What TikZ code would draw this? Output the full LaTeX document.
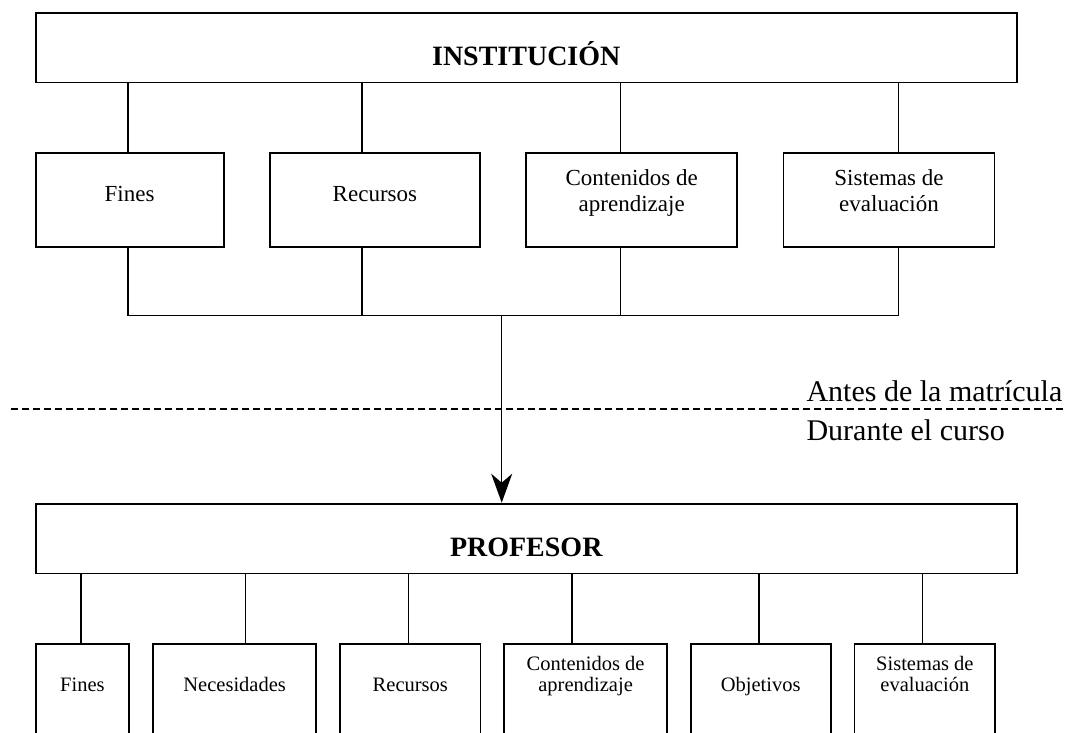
\documentclass[tikz,border=0pt]{standalone}
\usepackage{fontspec}
\setmainfont{Liberation Serif}
\usetikzlibrary{arrows.meta, positioning}

\begin{document}
\begin{tikzpicture}[
    x=1pt, y=-1pt,
    panel/.style={draw, line width=1.8pt, minimum width=981.3pt, inner ysep=0pt, anchor=north west, text height=53.3pt, text depth=16.5pt, font=\fontsize{28}{32}\selectfont\bfseries},
    item/.style={draw, line width=1.8pt, inner ysep=0pt, inner xsep=2pt, anchor=north west, align=center, font=\fontsize{23}{26.7}\selectfont},
    oneline/.style={text height=49pt, text depth=45.3pt},
    twoline/.style={text height=59.3pt, text depth=35pt},
    subitem/.style={item, font=\fontsize{20.5}{21.3}\selectfont},
    subone/.style={text height=47.4pt, text depth=70pt},
    subtwo/.style={text height=47.7pt, text depth=69.7pt},
    link/.style={line width=1.4pt},
    arrow/.style={-{Stealth[length=29pt, width=21pt, inset=9pt]}, line width=1.4pt},
    phase/.style={anchor=base west, font=\fontsize{30}{34}\selectfont}
]
\useasboundingbox (0,0) rectangle (1070,732);
\clip (0,0) rectangle (1070,732);
\fill[white] (0,0) rectangle (1070,732);

% institution level
\node[panel] (inst) at (34.7,11.7) {INSTITUCIÓN};
\node[item, oneline, minimum width=188pt] (fin1) at (34.7,151.7) {Fines};
\node[item, oneline, minimum width=210pt, right=44.5pt of fin1] (rec1) {Recursos};
\node[item, twoline, minimum width=211pt, right=44.5pt of rec1] (con1) {Contenidos de\\aprendizaje};
\node[item, twoline, minimum width=211pt, right=44.5pt of con1] (sis1) {Sistemas de\\evaluación};

\coordinate (busw) at (128,315.7);
\coordinate (buse) at (898.7,315.7);
\coordinate (bus) at (501.7,315.7);
\foreach \n/\x in {fin1/128, rec1/362, con1/620.6, sis1/898.7}
    \draw[link] (inst.south -| \x,0) -- (\n.north -| \x,0) (\n.south -| \x,0) -- (\x,315.7);
\draw[link] (busw) -- (buse);

% phase boundary
\coordinate (cutw) at (11,409);
\coordinate (cute) at (1063,409);
\draw[line width=1.4pt, dash pattern=on 7pt off 4pt] (cutw) -- (cute);
\node[phase] (before) at (803,401) {Antes de la matrícula};
\node[phase] (during) at (803,440) {Durante el curso};

% teacher level
\node[panel] (prof) at (34.7,502.7) {PROFESOR};
\draw[arrow] (bus) -- (prof.north -| bus);

\node[subitem, subone, minimum width=93.6pt] (fin2) at (34.7,643.3) {Fines};
\node[subitem, subone, minimum width=163.3pt, right=22pt of fin2] (nec2) {Necesidades};
\node[subitem, subone, minimum width=140.4pt, right=22pt of nec2] (rec2) {Recursos};
\node[subitem, subtwo, minimum width=162.6pt, right=22pt of rec2] (con2) {Contenidos de\\aprendizaje};
\node[subitem, subone, minimum width=140pt, right=22pt of con2] (obj2) {Objetivos};
\node[subitem, subtwo, minimum width=140.7pt, right=22pt of obj2] (sis2) {Sistemas de\\evaluación};

\foreach \n/\x in {fin2/81, nec2/245.7, rec2/408.7, con2/572, obj2/759, sis2/922.7}
    \draw[link] (prof.south -| \x,0) -- (\n.north -| \x,0);
\end{tikzpicture}
\end{document}
